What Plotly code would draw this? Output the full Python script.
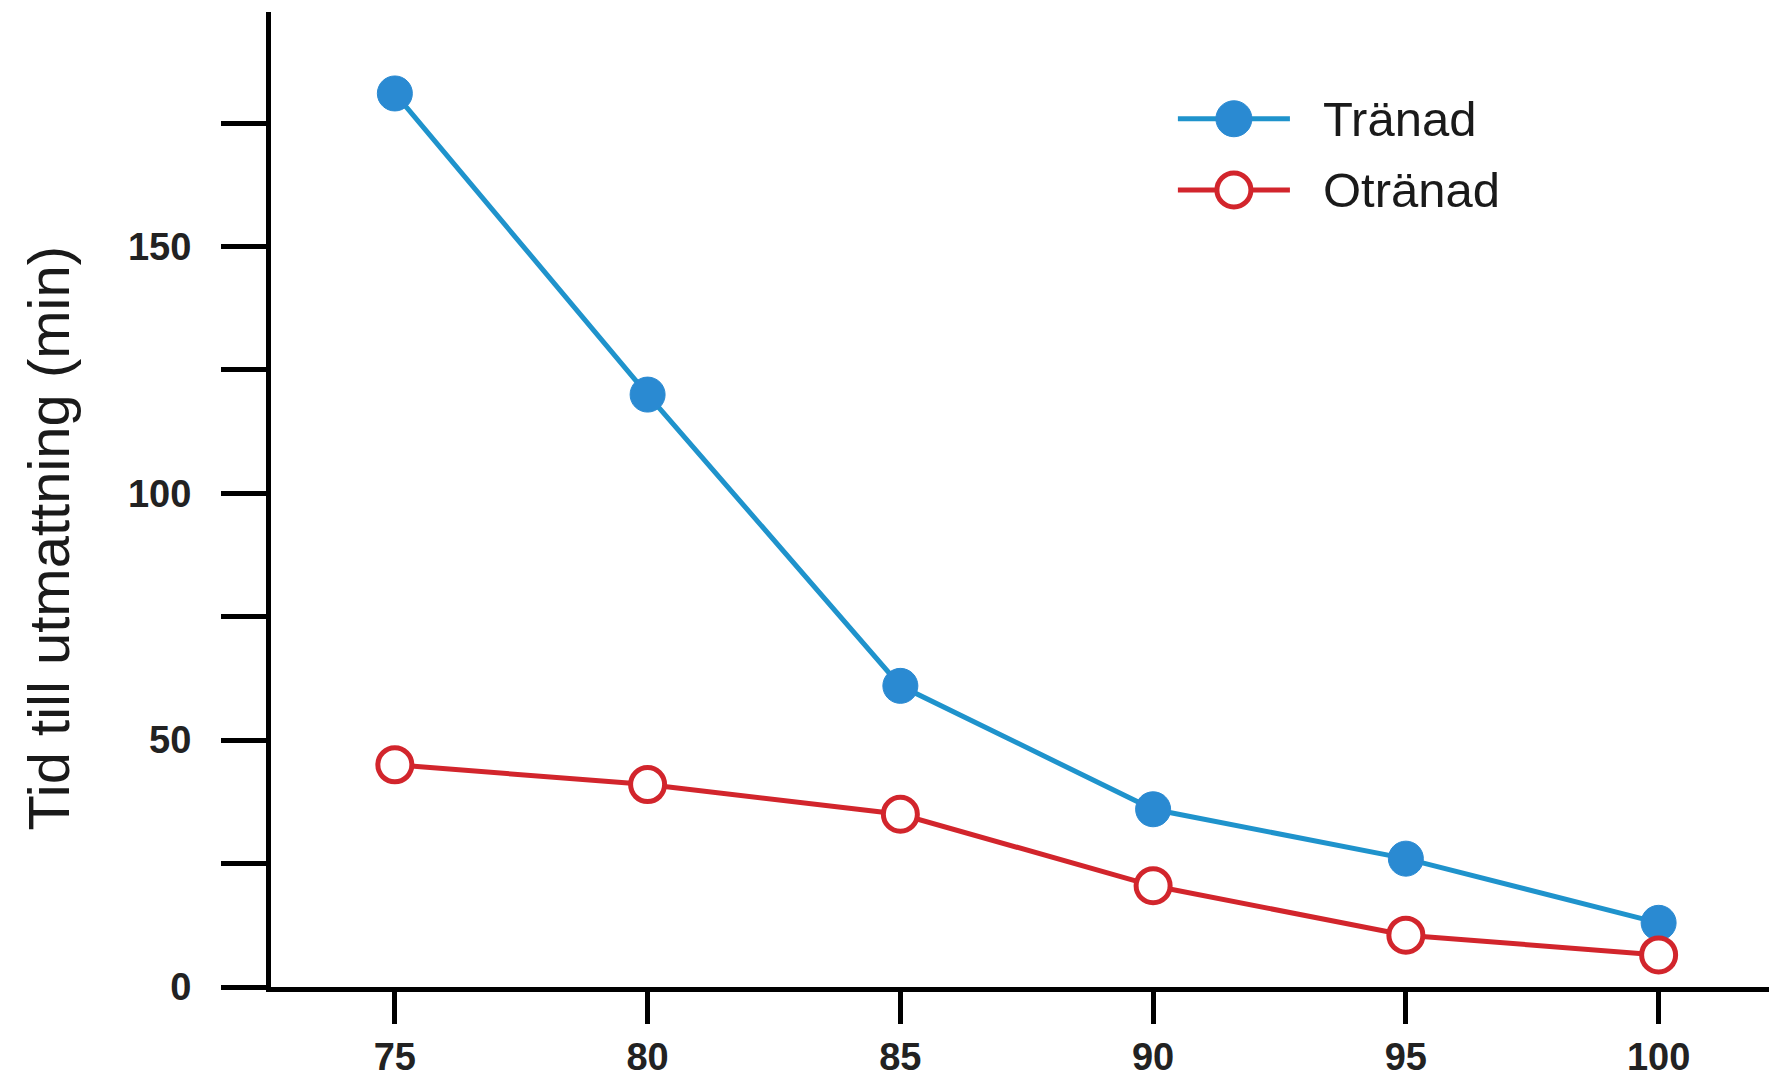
import plotly.graph_objects as go

intensity = [75, 80, 85, 90, 95, 100]
tranad = [181, 120, 61, 36, 26, 13]
otranad = [45, 41, 35, 20.5, 10.5, 6.5]
series_names = ["Tränad", "Otränad"]
y_tickvals = [0, 25, 50, 75, 100, 125, 150, 175]
y_ticktext = ["0", "", "50", "", "100", "", "150", ""]
x_tickvals = [75, 80, 85, 90, 95, 100]
y_title = "Tid till utmattning (min)"

BLUE_M = "#2a8ad2"
BLUE_L = "#1f93cc"
RED = "#d2252c"
FONT = "Liberation Sans"

fig = go.Figure()
fig.add_trace(go.Scatter(
    x=intensity, y=tranad, mode="lines+markers", name=series_names[0],
    line=dict(color=BLUE_L, width=5),
    marker=dict(size=35, color=BLUE_M, opacity=1, line=dict(color=BLUE_M, width=1)),
    showlegend=False, cliponaxis=False))
fig.add_trace(go.Scatter(
    x=intensity, y=otranad, mode="lines+markers", name=series_names[1],
    line=dict(color=RED, width=5),
    marker=dict(size=34, color="white", opacity=1, line=dict(color=RED, width=5)),
    showlegend=False, cliponaxis=False))

# custom legend drawn on an invisible overlay axis
leg_x = [0.599, 0.636, 0.673]
leg_rows = [0.8905, 0.8175]
fig.add_trace(go.Scatter(
    x=leg_x, y=[leg_rows[0]] * 3, xaxis="x2", yaxis="y2", mode="lines",
    line=dict(color=BLUE_L, width=5), showlegend=False, hoverinfo="skip"))
fig.add_trace(go.Scatter(
    x=[leg_x[1]], y=[leg_rows[0]], xaxis="x2", yaxis="y2", mode="markers",
    marker=dict(size=36, color=BLUE_M, opacity=1, line=dict(color=BLUE_M, width=1)),
    showlegend=False, hoverinfo="skip"))
fig.add_trace(go.Scatter(
    x=leg_x, y=[leg_rows[1]] * 3, xaxis="x2", yaxis="y2", mode="lines",
    line=dict(color=RED, width=5), showlegend=False, hoverinfo="skip"))
fig.add_trace(go.Scatter(
    x=[leg_x[1]], y=[leg_rows[1]], xaxis="x2", yaxis="y2", mode="markers",
    marker=dict(size=34, color="white", opacity=1, line=dict(color=RED, width=5)),
    showlegend=False, hoverinfo="skip"))
for name, yr in zip(series_names, leg_rows):
    fig.add_annotation(x=0.6935, y=yr, xref="paper", yref="paper", text=name,
                       showarrow=False, xanchor="left", yanchor="middle",
                       font=dict(family=FONT, size=49, color="#1a1a1a"))

# y-axis title as a rotated annotation
fig.add_annotation(x=-0.147, y=0.4605, xref="paper", yref="paper", text=y_title,
                   showarrow=False, textangle=-90, xanchor="center", yanchor="middle",
                   font=dict(family=FONT, size=58, color="#1a1a1a"))

fig.update_layout(
    width=1777, height=1081,
    margin=dict(l=263, r=0, t=4, b=102, autoexpand=False),
    paper_bgcolor="white", plot_bgcolor="white",
    xaxis=dict(range=[72.55, 102.5], tickvals=x_tickvals, showgrid=False, zeroline=False,
               showline=True, linecolor="black", linewidth=5, automargin=False,
               ticks="outside", ticklen=32, tickwidth=5, tickcolor="black",
               ticklabelstandoff=0,
               tickfont=dict(family=FONT, size=38, color="#222", weight="bold")),
    yaxis=dict(range=[0, 197.5], tickvals=y_tickvals, ticktext=y_ticktext,
               showgrid=False, zeroline=False, automargin=False,
               showline=True, linecolor="black", linewidth=5,
               ticks="outside", ticklen=45, tickwidth=5, tickcolor="black",
               ticklabelstandoff=22,
               tickfont=dict(family=FONT, size=38, color="#222", weight="bold")),
    xaxis2=dict(range=[0, 1], domain=[0, 1], overlaying="x", visible=False, fixedrange=True),
    yaxis2=dict(range=[0, 1], domain=[0, 1], overlaying="y", visible=False, fixedrange=True),
)

fig.write_html("out.html")
